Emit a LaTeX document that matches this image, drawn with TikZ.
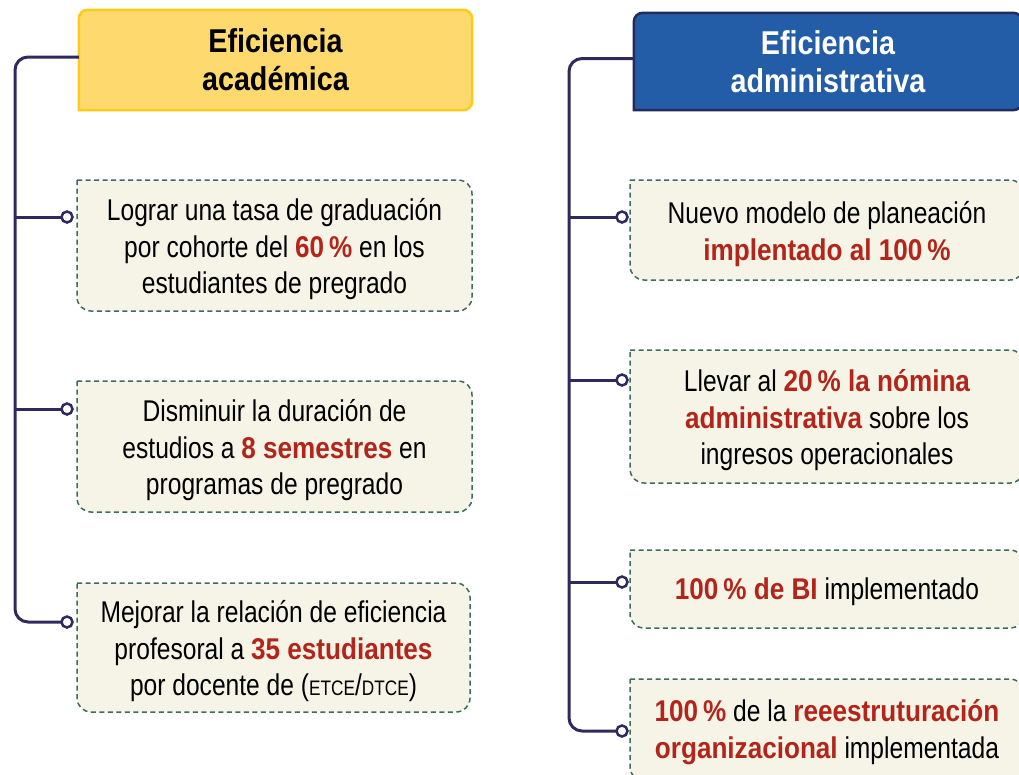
\documentclass[tikz,border=0pt]{standalone}
\usepackage{fontspec}
\setmainfont[FakeStretch=0.82, BoldFeatures={FakeStretch=0.87}]{Liberation Sans}
\usetikzlibrary{backgrounds}

\definecolor{spineblue}{HTML}{2E2A5E}
\definecolor{goalred}{HTML}{B3251A}
\definecolor{goalfill}{HTML}{F6F4E7}
\definecolor{goalline}{HTML}{3E6B5C}
\definecolor{acadfill}{HTML}{FDD96E}
\definecolor{acadline}{HTML}{FCCB1A}
\definecolor{admfill}{HTML}{235CA7}
\definecolor{admline}{HTML}{232B5C}

\newcommand{\rojo}[1]{\textcolor{goalred}{\textbf{#1}}}
\newcommand{\siglas}[1]{{\fontsize{21}{24}\selectfont #1}}

\begin{document}
\begin{tikzpicture}
[
	               x = 1pt,
	               y = -1pt,
	   header/.style = { align=center, inner sep=0pt, font=\fontsize{33}{38}\selectfont\bfseries },
	    frame/.style = { inner sep=0pt, outer sep=0pt },
	     goal/.style = { align=center, inner sep=0pt, font=\fontsize{30}{36.5}\selectfont },
	      pin/.style = { draw=spineblue, fill=white, circle, line width=2.5pt, inner sep=0pt, minimum size=11pt },
	    trunk/.style = { draw=spineblue, line width=3pt, rounded corners=13pt },
	  goalbox/.style = { draw=goalline, fill=goalfill, line width=1.5pt, dash pattern=on 5pt off 3.5pt },
	  acadbox/.style = { draw=acadline, fill=acadfill, line width=2.5pt, line cap=rect },
	   admbox/.style = { draw=admline, fill=admfill, line width=2.5pt, line cap=rect }
]

    \useasboundingbox (0,0) rectangle (1019,774);

    % eficiencia academica
    \node (hdrA)      at (275.5,  60) [header, minimum width=393pt, minimum height=100pt] {Eficiencia\\académica};

    \node (acadGoal1) at (274.5,245.5) [frame, minimum width=395pt, minimum height=131pt] {};
    \node (acadGoal2) at (274.5,446.5) [frame, minimum width=395pt, minimum height=131pt] {};
    \node (acadGoal3) at (273.5,647.5) [frame, minimum width=393pt, minimum height=129pt] {};

    \node (acadText1) at ([yshift=-4pt]acadGoal1.center) [goal]
        {Lograr una tasa de graduación\\por cohorte del \rojo{60\,\%} en los\\estudiantes de pregrado};
    \node (acadText2) at ([yshift=-4pt]acadGoal2.center) [goal]
        {Disminuir la duración de\\estudios a \rojo{8 semestres} en\\programas de pregrado};
    \node (acadText3) at ([yshift=-4pt]acadGoal3.center) [goal]
        {Mejorar la relación de eficiencia\\profesoral a \rojo{35 estudiantes}\\por docente de (\siglas{ETCE}/\siglas{DTCE})};

    \coordinate (acadSpine) at (15,400);
    \draw[trunk] ([yshift=3pt]hdrA.west) -| (acadSpine) |- (62,622);
    \draw[trunk] (acadSpine |- 0,217) -- (62,217);
    \draw[trunk] (acadSpine |- 0,409) -- (62,409);

    \node (acadPin1)  at (67,217) [pin] {};
    \node (acadPin2)  at (67,409) [pin] {};
    \node (acadPin3)  at (67,622) [pin] {};

    % eficiencia administrativa
    \node (hdrB)      at (828,61.5) [header, text=white, minimum width=388pt, minimum height=97pt] {Eficiencia\\administrativa};

    \node (admGoal1)  at (827, 230) [frame, minimum width=394pt, minimum height=100pt] {};
    \node (admGoal2)  at (827,416.5) [frame, minimum width=394pt, minimum height=133pt] {};
    \node (admGoal3)  at (827, 589) [frame, minimum width=394pt, minimum height=78pt] {};
    \node (admGoal4)  at (827, 730) [frame, minimum width=394pt, minimum height=102pt] {};

    \node (admText1)  at ([yshift=-4pt]admGoal1.center) [goal]
        {Nuevo modelo de planeación\\\rojo{implentado al 100\,\%}};
    \node (admText2)  at ([yshift=-4pt]admGoal2.center) [goal]
        {Llevar al \rojo{20\,\% la nómina}\\\rojo{administrativa} sobre los\\ingresos operacionales};
    \node (admText3)  at ([yshift=-3pt]admGoal3.center) [goal]
        {\rojo{100\,\% de BI} implementado};
    \node (admText4)  at ([yshift=-2pt]admGoal4.center) [goal]
        {\rojo{100\,\%} de la \rojo{reeestruturación}\\\rojo{organizacional} implementada};

    \coordinate (admSpine) at (569,400);
    \draw[trunk] ([yshift=3pt]hdrB.west) -| (admSpine) |- (617,731);
    \draw[trunk] (admSpine |- 0,217) -- (617,217);
    \draw[trunk] (admSpine |- 0,380) -- (617,380);
    \draw[trunk] (admSpine |- 0,582) -- (617,582);

    \node (admPin1)   at (622,217) [pin] {};
    \node (admPin2)   at (622,380) [pin] {};
    \node (admPin3)   at (622,582) [pin] {};
    \node (admPin4)   at (622,731) [pin] {};

    \begin{scope}[on background layer]
        \draw[acadbox] (hdrA.south west) [rounded corners=9pt] -- (hdrA.north west) -- (hdrA.north east)
            -- (hdrA.south east) -- (hdrA.south west);
        \draw[admbox]  (hdrB.south west) [rounded corners=9pt] -- (hdrB.north west) -- (hdrB.north east)
            -- (hdrB.south east) -- (hdrB.south west);
        \foreach \g in {acadGoal1,acadGoal2,acadGoal3,admGoal1,admGoal2,admGoal3,admGoal4}
            \draw[goalbox] (\g.north west) [rounded corners=14pt] -- (\g.north east) -- (\g.south east)
                -- (\g.south west) -- (\g.north west);
    \end{scope}

\end{tikzpicture}
\end{document}
